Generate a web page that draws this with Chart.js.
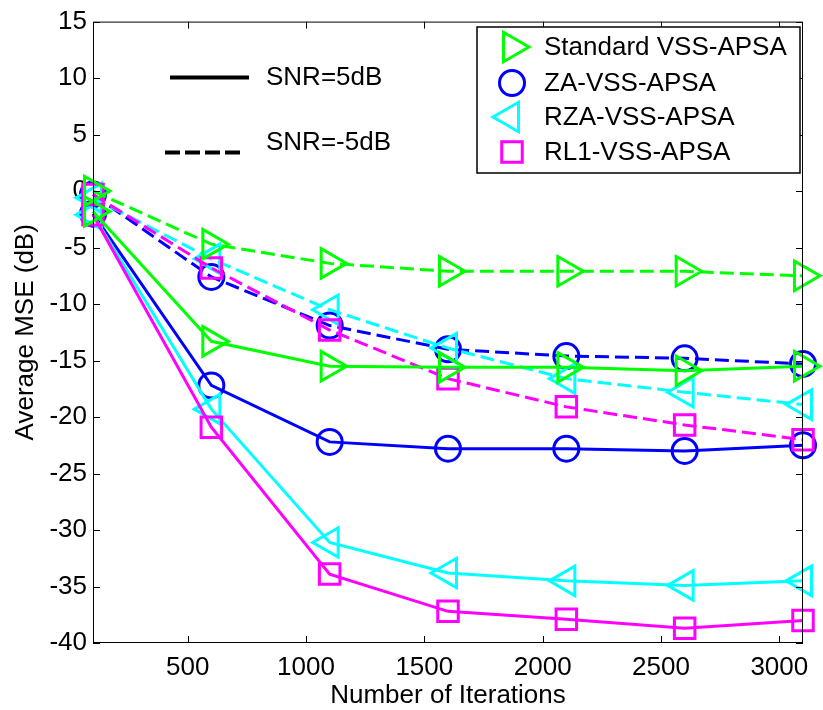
<!DOCTYPE html>
<html>
<head>
<meta charset="utf-8">
<script src="https://cdn.jsdelivr.net/npm/chart.js@4/dist/chart.umd.min.js"></script>
<style>
  html, body { margin: 0; padding: 0; background: #fff; }
  #wrap { width: 823px; height: 710px; }
</style>
</head>
<body>
<div id="wrap"><canvas id="mseChart" width="823" height="710"></canvas></div>
<script>
// iterazioni (asse x)
const iterations = [100, 600, 1100, 1600, 2100, 2600, 3100];
const xTicks = [500, 1000, 1500, 2000, 2500, 3000];

// SNR = 5dB (linee continue)
const stdSnr5 = [-1.8, -13.3, -15.5, -15.6, -15.6, -15.9, -15.5];
const zaSnr5  = [-2.0, -17.2, -22.2, -22.8, -22.8, -23.0, -22.5];
const rzaSnr5 = [-2.1, -19.3, -31.1, -33.8, -34.5, -34.9, -34.5];
const rl1Snr5 = [-2.1, -20.9, -33.9, -37.2, -37.9, -38.7, -38.0];

// SNR = -5dB (linee tratteggiate)
const stdSnrM5 = [0.0, -4.7, -6.4, -7.1, -7.1, -7.1, -7.5];
const zaSnrM5  = [-0.3, -7.6, -11.9, -14.0, -14.6, -14.8, -15.3];
const rzaSnrM5 = [-0.6, -6.0, -10.5, -13.9, -16.6, -17.8, -18.9];
const rl1SnrM5 = [-0.3, -6.8, -12.3, -16.6, -19.1, -20.7, -22.0];

const algoNames = ["Standard VSS-APSA", "ZA-VSS-APSA", "RZA-VSS-APSA", "RL1-VSS-APSA"];

const FONT = "'Liberation Sans', Arial, sans-serif";

// stile marker per algoritmo
const styles = [
  { color: "#00ff00", point: "triangle", rot: 90, radius: 17 },
  { color: "#0000ff", point: "circle", rot: 0, radius: 12.5 },
  { color: "#00ffff", point: "triangle", rot: -90, radius: 17 },
  { color: "#ff00ff", point: "rect", rot: 0, radius: 14.5 }
];

function makeSet(label, values, st, dashed) {
  return {
    label: label,
    data: iterations.map((x, i) => ({ x: x, y: values[i] })),
    borderColor: st.color,
    borderWidth: 3,
    borderDash: dashed ? [14, 6] : [],
    pointStyle: st.point,
    pointRotation: st.rot,
    pointRadius: st.radius,
    pointHoverRadius: st.radius,
    pointBorderWidth: 3,
    pointBorderColor: st.color,
    pointBackgroundColor: "rgba(0,0,0,0)",
    tension: 0,
    clip: false
  };
}

// ordine: il primo dataset viene disegnato sopra
const datasets = [
  makeSet(algoNames[0], stdSnr5, styles[0], false),
  makeSet(algoNames[0], stdSnrM5, styles[0], true),
  makeSet(algoNames[3], rl1Snr5, styles[3], false),
  makeSet(algoNames[3], rl1SnrM5, styles[3], true),
  makeSet(algoNames[2], rzaSnr5, styles[2], false),
  makeSet(algoNames[2], rzaSnrM5, styles[2], true),
  makeSet(algoNames[1], zaSnr5, styles[1], false),
  makeSet(algoNames[1], zaSnrM5, styles[1], true)
];

// disegna un marker come fa Chart.js
function marker(ctx, st, x, y) {
  const r = st.radius;
  ctx.save();
  ctx.strokeStyle = st.color;
  ctx.lineWidth = 3;
  ctx.beginPath();
  if (st.point === "circle") {
    ctx.arc(x, y, r, 0, Math.PI * 2);
  } else if (st.point === "rect") {
    const s = r * Math.SQRT1_2;
    ctx.rect(x - s, y - s, 2 * s, 2 * s);
  } else {
    let a = st.rot * Math.PI / 180;
    for (let k = 0; k < 3; k++) {
      const px = x + Math.sin(a) * r, py = y - Math.cos(a) * r;
      if (k === 0) ctx.moveTo(px, py); else ctx.lineTo(px, py);
      a += 2 * Math.PI / 3;
    }
    ctx.closePath();
  }
  ctx.stroke();
  ctx.restore();
}

// box, tacche interne, legenda e nota SNR
const matlabAxes = {
  id: "matlabAxes",
  afterDraw(chart) {
    const { ctx, chartArea: a, scales } = chart;
    ctx.save();
    ctx.strokeStyle = "#000";
    ctx.lineWidth = 1;
    ctx.strokeRect(a.left + 0.5, a.top + 0.5, a.right - a.left - 1, a.bottom - a.top - 1);
    const tl = 7;
    ctx.beginPath();
    xTicks.forEach(v => {
      const px = Math.round(scales.x.getPixelForValue(v)) + 0.5;
      ctx.moveTo(px, a.bottom); ctx.lineTo(px, a.bottom - tl);
      ctx.moveTo(px, a.top); ctx.lineTo(px, a.top + tl);
    });
    scales.y.ticks.forEach(t => {
      const py = Math.round(scales.y.getPixelForValue(t.value)) + 0.5;
      ctx.moveTo(a.left, py); ctx.lineTo(a.left + tl, py);
      ctx.moveTo(a.right, py); ctx.lineTo(a.right - tl, py);
    });
    ctx.stroke();

    // nota SNR
    ctx.lineWidth = 4;
    ctx.beginPath();
    ctx.moveTo(a.left + 77, a.top + 56);
    ctx.lineTo(a.left + 156, a.top + 56);
    ctx.stroke();
    ctx.setLineDash([15, 5]);
    ctx.beginPath();
    ctx.moveTo(a.left + 72, a.top + 131);
    ctx.lineTo(a.left + 152, a.top + 131);
    ctx.stroke();
    ctx.setLineDash([]);
    ctx.fillStyle = "#000";
    ctx.font = "26px " + FONT;
    ctx.textBaseline = "middle";
    ctx.textAlign = "left";
    ctx.fillText("SNR=5dB", a.left + 173, a.top + 56);
    ctx.fillText("SNR=-5dB", a.left + 173, a.top + 121);

    // legenda
    const lx = 477, ly = 27, lw = 323, lh = 146;
    ctx.fillStyle = "#fff";
    ctx.fillRect(lx, ly, lw, lh);
    ctx.lineWidth = 1.5;
    ctx.strokeStyle = "#000";
    ctx.strokeRect(lx, ly, lw, lh);
    const rows = [47, 83, 117, 152];
    const mx = [512, 512, 510, 512];
    algoNames.forEach((name, i) => {
      marker(ctx, styles[i], mx[i], rows[i]);
      ctx.fillStyle = "#000";
      ctx.fillText(name, 544, rows[i] + 1);
    });
    ctx.restore();
  }
};

const ctx = document.getElementById("mseChart").getContext("2d");
new Chart(ctx, {
  type: "line",
  data: { datasets: datasets },
  options: {
    responsive: false,
    animation: false,
    events: [],
    layout: { padding: { left: 0, top: 16, right: 17, bottom: 0 } },
    plugins: {
      legend: { display: false },
      tooltip: { enabled: false }
    },
    scales: {
      x: {
        type: "linear",
        min: 100,
        max: 3100,
        afterBuildTicks: s => { s.ticks = xTicks.map(v => ({ value: v })); },
        afterFit: s => { s.height = 67; },
        grid: { display: false, drawTicks: false },
        border: { display: false },
        ticks: {
          color: "#000",
          padding: 9,
          maxRotation: 0,
          font: { family: FONT, size: 26 },
          callback: v => String(v)
        },
        title: {
          display: true,
          text: "Number of Iterations",
          color: "#000",
          font: { family: FONT, size: 26, lineHeight: 1 },
          padding: { top: 0, bottom: 1 }
        }
      },
      y: {
        min: -40,
        max: 15,
        afterFit: s => { s.width = 93; },
        grid: { display: false, drawTicks: false },
        border: { display: false },
        ticks: {
          stepSize: 5,
          color: "#000",
          padding: 6,
          font: { family: FONT, size: 26 }
        },
        title: {
          display: true,
          text: "Average MSE (dB)",
          color: "#000",
          font: { family: FONT, size: 26, lineHeight: 1.2 },
          padding: { top: 10, bottom: 0 }
        }
      }
    }
  },
  plugins: [matlabAxes]
});
</script>
</body>
</html>
